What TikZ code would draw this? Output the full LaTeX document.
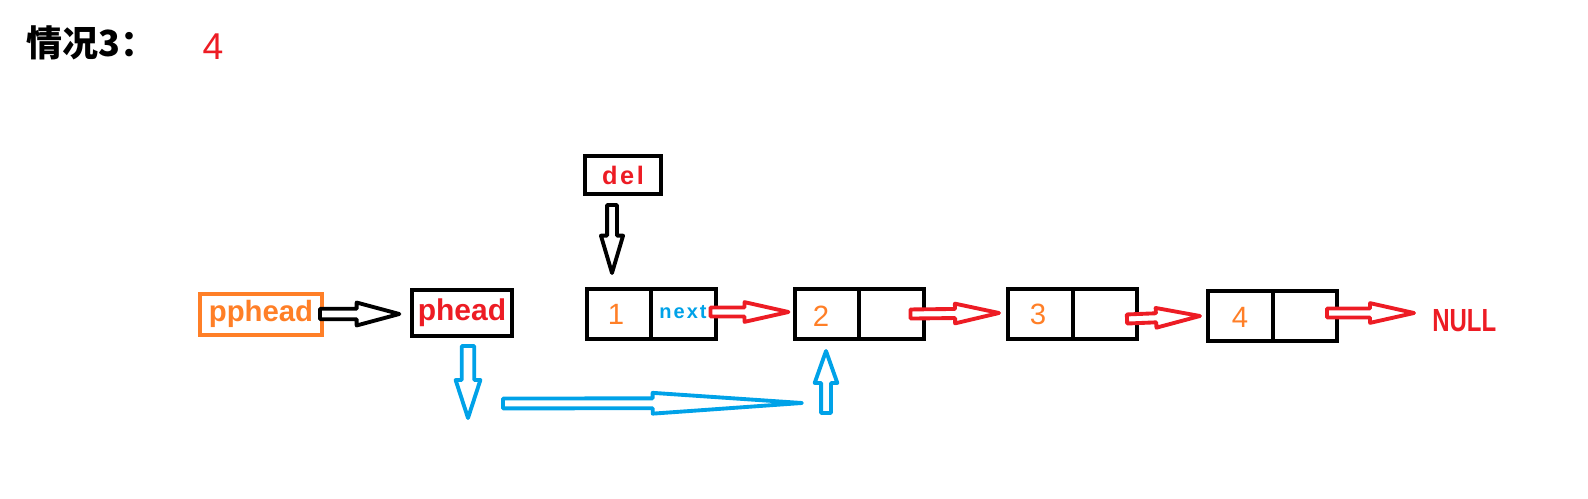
\documentclass[tikz,border=0pt]{standalone}
\usepackage{fontspec}
\setmainfont{Liberation Sans}
\newfontfamily\cjk{Noto Sans CJK SC}
\newfontfamily\narrowfont[FakeStretch=0.75]{Liberation Sans}
\newfontfamily\spacedfont[LetterSpace=10]{Liberation Sans}
\usetikzlibrary{calc}
\definecolor{pred}{HTML}{ED1C24}
\definecolor{porange}{HTML}{FF7F27}
\definecolor{pblue}{HTML}{00A2E8}
\tikzset{
  boxnode/.style={draw=black, line width=3pt, inner sep=0pt, fill=white},
  cellnode/.style={boxnode, minimum width=96.75pt, minimum height=37.5pt},
  digit/.style={text=porange, font=\fontsize{22pt}{22pt}\selectfont, inner sep=0pt},
  blockarrow/.style n args={4}{draw=#1, fill=white, line width=2.9pt, line join=round,
    to path={
      ($(\tikztostart)!#2!90:(\tikztotarget)$) --
      ($(\tikztotarget)!#4!(\tikztostart)!#2!-90:(\tikztostart)$) --
      ($(\tikztotarget)!#4!(\tikztostart)!#3!-90:(\tikztostart)$) --
      (\tikztotarget) --
      ($(\tikztotarget)!#4!(\tikztostart)!#3!90:(\tikztostart)$) --
      ($(\tikztotarget)!#4!(\tikztostart)!#2!90:(\tikztostart)$) --
      ($(\tikztostart)!#2!-90:(\tikztotarget)$) -- cycle}},
  redarrow/.style={blockarrow={pred}{3.4pt}{7.4pt}{33pt}}
}
\begin{document}
\begin{tikzpicture}[x=0.75pt,y=-0.75pt]
\useasboundingbox (0,0) rectangle (1588,499);

% title
\node[anchor=west, inner sep=0pt, font=\cjk\bfseries\fontsize{27pt}{27pt}\selectfont] (title) at (26,43) {情况3：};
\node[inner sep=0pt, text=pred, font=\fontsize{28pt}{28pt}\selectfont] (case) at (213,47) {4};

% nodes
\node[draw=porange, line width=3pt, inner sep=0pt, minimum width=91.5pt, minimum height=30.75pt,
      text=porange, font=\bfseries\fontsize{22pt}{22pt}\selectfont] (pp) at (261,314) {pphead};
\node[boxnode, minimum width=75pt, minimum height=34.5pt,
      text=pred, font=\bfseries\fontsize{22.5pt}{22.5pt}\selectfont] (ph) at (462,313) {phead};
\node[boxnode, minimum width=57pt, minimum height=28.5pt,
      text=pred, font=\spacedfont\bfseries\fontsize{19pt}{19pt}\selectfont] (del) at (623,175) {del};

\node[cellnode] (n1) at (651,314) {};
\node[cellnode] (n2) at (859,314) {};
\node[cellnode] (n3) at (1072.5,314) {};
\node[cellnode] (n4) at (1272.5,316) {};
\foreach \n in {n1,n2,n3,n4}{\draw[line width=3pt] (\n.north) -- (\n.south);}

\node[digit] (d1) at (616,314) {1};
\node[digit] (d2) at (821,316) {2};
\node[digit] (d3) at (1038,314) {3};
\node[digit] (d4) at (1240,317) {4};
\node[inner sep=0pt, text=pblue, font=\spacedfont\bfseries\fontsize{15pt}{15pt}\selectfont] (nx) at (683,312) {next};

\node[anchor=west, inner sep=0pt, text=pred, font=\narrowfont\bfseries\fontsize{24pt}{24pt}\selectfont] (null) at (1432,321) {NULL};

% free ends of the blue arrows
\coordinate (bd) at (468,418);
\coordinate (bh1) at (503,403.5);
\coordinate (bh2) at (802,403);
\coordinate (bu) at (826,413);

% arrows
\draw[blockarrow={black}{3.9pt}{8.6pt}{32pt}] ([xshift=-3pt]pp.east) to ([xshift=-8pt,yshift=-0.75pt]ph.west);
\draw[blockarrow={black}{3.7pt}{8.3pt}{28pt}] ([xshift=-8.25pt,yshift=-6.75pt]del.south) to ([xshift=-29.25pt,yshift=10.5pt]n1.north);
\draw[redarrow] ([xshift=-5.25pt,yshift=1.5pt]n1.east) to ([xshift=-3pt,yshift=1.5pt]n2.west);
\draw[redarrow] ([xshift=-11.25pt]n2.east) to ([xshift=-5.25pt,yshift=0.75pt]n3.west);
\draw[redarrow] ([xshift=-9pt,yshift=-3.75pt]n3.east) to ([xshift=-4.5pt]n4.west);
\draw[redarrow] ([xshift=-9pt,yshift=2.25pt]n4.east) to ([xshift=-13.5pt,yshift=6pt]null.west);

\draw[blockarrow={pblue}{4.7pt}{9.3pt}{28.5pt}] ([xshift=4.5pt,yshift=-6pt]ph.south) to (bd);
\draw[blockarrow={pblue}{3.7pt}{7.8pt}{112pt}] (bh1) to (bh2);
\draw[blockarrow={pblue}{3.7pt}{8.5pt}{24pt}] (bu) to ([xshift=-24.75pt,yshift=-7.5pt]n2.south);
\end{tikzpicture}
\end{document}
